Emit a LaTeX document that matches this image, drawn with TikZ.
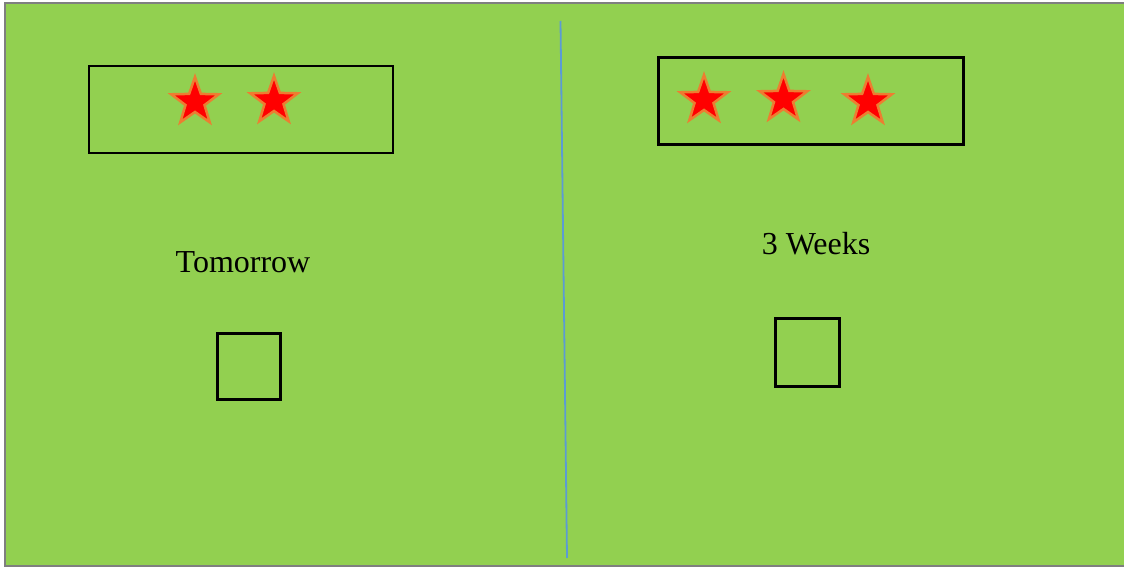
\documentclass[tikz,border=0pt]{standalone}
\usepackage{fontspec}
\setmainfont{Liberation Serif}
\usetikzlibrary{shapes.geometric}
\definecolor{bggreen}{HTML}{92D050}
\definecolor{framegray}{HTML}{7F7F7F}
\definecolor{divblue}{HTML}{5B9BD5}
\definecolor{starorange}{HTML}{ED7D31}
\tikzset{
  panelbox/.style={draw=black, line width=2.5pt, fill=none},
  redstar/.style={star, star points=5, star point ratio=2.5, minimum size=50pt,
    inner sep=0pt, fill=red, draw=starorange, line width=2.5pt},
  label/.style={font=\fontsize{32}{36}\selectfont, inner sep=0pt, anchor=base},
}
\begin{document}
\begin{tikzpicture}[x=1pt,y=-1pt]
\useasboundingbox (0,0) rectangle (1124,567);
\fill[white] (0,0) rectangle (1124,567);
\draw[framegray, line width=2pt, fill=bggreen] (5,3.5) rectangle (1140,566);
% divider
\coordinate (dtop) at (560.5,21);
\coordinate (dbot) at (567,558);
\draw[divblue, line width=1.8pt] (dtop) -- (dbot);
% left panel
\node[panelbox, minimum width=304pt, minimum height=87pt, inner sep=0pt] (lbox) at (241,109.5) {};
\node[redstar] (ls1) at (195,102) {};
\node[redstar] (ls2) at (274,101) {};
\node[label] (ltext) at (243,272) {Tomorrow};
\node[panelbox, minimum width=63pt, minimum height=66pt, inner sep=0pt] (lsq) at (249,366.5) {};
% right panel
\node[panelbox, minimum width=305pt, minimum height=87pt, inner sep=0pt] (rbox) at (811,101) {};
\node[redstar] (rs1) at (704,100) {};
\node[redstar] (rs2) at (783.5,99) {};
\node[redstar] (rs3) at (868,102) {};
\node[label] (rtext) at (816,254.5) {3 Weeks};
\node[panelbox, minimum width=64pt, minimum height=68pt, inner sep=0pt] (rsq) at (807.5,352.5) {};
\end{tikzpicture}
\end{document}
